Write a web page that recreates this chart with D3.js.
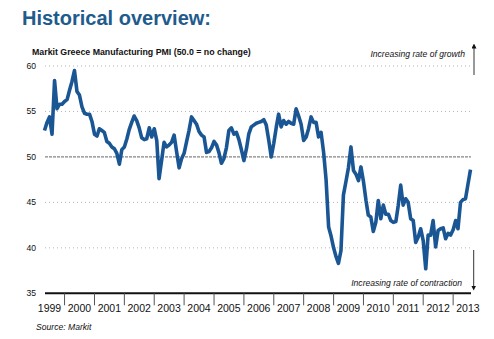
<!DOCTYPE html>
<html>
<head>
<meta charset="utf-8">
<script src="https://cdn.jsdelivr.net/npm/d3@7"></script>
<style>
  body { margin: 0; background: #fff; }
  svg { display: block; font-family: "Liberation Sans", Arial, sans-serif; }
</style>
</head>
<body>
<div id="chart"></div>
<script>
// data: monthly PMI readings, May 1999 - Aug 2013
var firstMonth = new Date(1999, 4, 1);
var pmi = [
  // 1999 (May-Dec)
  52.9, 53.8, 54.4, 52.5, 58.4, 55.3, 55.8, 55.8,
  // 2000
  56.1, 56.3, 57.3, 58.3, 59.5, 57.2, 56.8, 55.5, 54.8, 54.7, 54.7, 53.9,
  // 2001
  52.5, 52.3, 53.1, 52.9, 52.7, 51.7, 51.5, 51.1, 50.9, 50.4, 49.2, 50.8,
  // 2002
  51.1, 52.0, 53.0, 53.8, 54.5, 54.0, 53.2, 52.1, 51.9, 52.0, 53.2, 52.2,
  // 2003
  53.1, 51.8, 47.6, 49.6, 51.6, 51.1, 51.3, 51.6, 52.4, 50.6, 48.8, 49.8,
  // 2004
  50.4, 51.7, 52.9, 54.4, 54.0, 53.6, 52.8, 52.4, 52.2, 50.5, 50.6, 51.0,
  // 2005
  51.7, 51.3, 50.5, 49.3, 49.8, 51.0, 52.9, 53.2, 52.5, 52.7, 51.9, 50.8,
  // 2006
  49.6, 50.9, 52.5, 53.3, 53.5, 53.7, 53.8, 53.9, 54.1, 53.5, 51.8, 50.0,
  // 2007
  51.5, 53.3, 54.7, 53.3, 54.0, 53.6, 53.9, 53.7, 53.6, 55.3, 54.5, 53.6,
  // 2008
  51.8, 52.2, 53.1, 54.4, 53.8, 53.8, 52.2, 52.7, 50.5, 47.5, 42.3, 41.3,
  // 2009
  40.0, 39.0, 38.3, 39.7, 45.8, 47.3, 48.8, 51.1, 48.5, 48.1, 47.4, 48.9,
  // 2010
  47.3, 45.2, 43.6, 43.4, 41.8, 42.8, 45.2, 43.2, 44.7, 43.7, 43.7, 43.0,
  // 2011
  42.8, 42.9, 44.6, 46.9, 44.7, 45.4, 45.0, 43.2, 43.0, 40.6, 41.2, 42.1,
  // 2012
  40.8, 37.7, 41.4, 41.4, 43.0, 40.1, 41.9, 42.1, 42.2, 41.0, 41.6, 41.4,
  // 2013 (Jan-Aug)
  42.0, 43.0, 42.1, 45.0, 45.3, 45.4, 47.0, 48.6
];
var years = [1999, 2000, 2001, 2002, 2003, 2004, 2005, 2006, 2007, 2008, 2009, 2010, 2011, 2012, 2013];
var yTicks = [35, 40, 45, 50, 55, 60];

var data = pmi.map(function (v, i) {
  return { date: d3.timeMonth.offset(firstMonth, i), value: v };
});

var W = 494, H = 339;
var svg = d3.select("#chart").append("svg")
  .attr("width", W)
  .attr("height", H);

// title
svg.append("text")
  .attr("x", 22).attr("y", 25)
  .attr("font-size", 20).attr("font-weight", "bold")
  .attr("fill", "#215b8c")
  .text("Historical overview:");

svg.append("text")
  .attr("x", 32).attr("y", 55)
  .attr("font-size", 8.8).attr("font-weight", "bold")
  .attr("fill", "#111")
  .text("Markit Greece Manufacturing PMI (50.0 = no change)");

// scales
var x = d3.scaleTime()
  .domain([firstMonth, data[data.length - 1].date])
  .range([44.5, 470.5]);
var y = d3.scaleLinear()
  .domain([35, 60])
  .range([293.3, 66]);

var x0 = 45, x1 = 471;

// grid lines
svg.append("g").selectAll("line")
  .data(yTicks.filter(function (d) { return d !== 35; }))
  .enter().append("line")
  .attr("x1", x0).attr("x2", x1)
  .attr("y1", function (d) { return y(d); })
  .attr("y2", function (d) { return y(d); })
  .attr("stroke", function (d) { return d === 50 ? "#666" : "#b5b5b5"; })
  .attr("stroke-width", 1)
  .attr("stroke-dasharray", function (d) { return d === 50 ? "3,1" : "1,3"; });

// y labels
svg.append("g").selectAll("text")
  .data(yTicks)
  .enter().append("text")
  .attr("x", 36)
  .attr("y", function (d) { return y(d) + 3; })
  .attr("text-anchor", "end")
  .attr("font-size", 8.6)
  .attr("fill", "#111")
  .text(function (d) { return d; });

// x axis
svg.append("line")
  .attr("x1", x0).attr("x2", x1)
  .attr("y1", y(35)).attr("y2", y(35))
  .attr("stroke", "#111").attr("stroke-width", 2);

svg.append("g").selectAll("line")
  .data(years.slice(1))
  .enter().append("line")
  .attr("x1", function (d) { return x(new Date(d, 0, 1)); })
  .attr("x2", function (d) { return x(new Date(d, 0, 1)); })
  .attr("y1", y(35)).attr("y2", y(35) + 12)
  .attr("stroke", "#555").attr("stroke-width", 1);

svg.append("g").selectAll("text")
  .data(years)
  .enter().append("text")
  .attr("x", function (d) { return x(new Date(d, 6, 1)); })
  .attr("y", 312)
  .attr("text-anchor", "middle")
  .attr("font-size", 10.5)
  .attr("fill", "#111")
  .text(function (d) { return d; });

// the PMI line
var line = d3.line()
  .x(function (d) { return x(d.date); })
  .y(function (d) { return y(d.value); });

svg.append("path")
  .datum(data)
  .attr("d", line)
  .attr("fill", "none")
  .attr("stroke", "#1a5694")
  .attr("stroke-width", 3.6)
  .attr("stroke-linejoin", "round");

// arrows and notes
var defs = svg.append("defs");
defs.append("marker")
  .attr("id", "head")
  .attr("viewBox", "0 0 10 10")
  .attr("refX", 5).attr("refY", 5)
  .attr("markerWidth", 5).attr("markerHeight", 5)
  .attr("orient", "auto")
  .append("path")
  .attr("d", "M0,0L10,5L0,10Z")
  .attr("fill", "#111");

svg.append("line")
  .attr("x1", 474).attr("x2", 474)
  .attr("y1", 75).attr("y2", 46)
  .attr("stroke", "#333").attr("stroke-width", 1)
  .attr("marker-end", "url(#head)");

svg.append("line")
  .attr("x1", 473.7).attr("x2", 473.7)
  .attr("y1", 250).attr("y2", 288)
  .attr("stroke", "#333").attr("stroke-width", 1)
  .attr("marker-end", "url(#head)");

svg.append("text")
  .attr("x", 465).attr("y", 57)
  .attr("text-anchor", "end")
  .attr("font-size", 8.6).attr("font-style", "italic")
  .attr("fill", "#111")
  .text("Increasing rate of growth");

svg.append("text")
  .attr("x", 462).attr("y", 286)
  .attr("text-anchor", "end")
  .attr("font-size", 8.6).attr("font-style", "italic")
  .attr("fill", "#111")
  .text("Increasing rate of contraction");

svg.append("text")
  .attr("x", 36).attr("y", 330)
  .attr("font-size", 8.6).attr("font-style", "italic")
  .attr("fill", "#111")
  .text("Source: Markit");
</script>
</body>
</html>
